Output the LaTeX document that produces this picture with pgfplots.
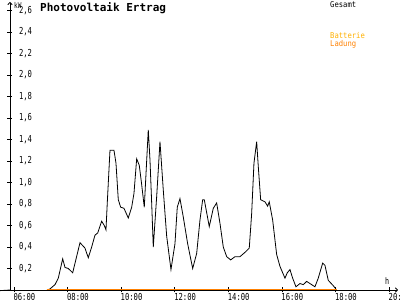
\documentclass[border=0pt]{standalone}
\usepackage{pgfplots}
\pgfplotsset{compat=1.18}
\usetikzlibrary{arrows.meta}
\usepackage{fontspec}
\newfontfamily\pix[FakeStretch=0.75]{DejaVu Sans Mono}
\newfontfamily\pixb[FakeStretch=0.9]{DejaVu Sans Mono}
\newfontfamily\titlef{DejaVu Sans Mono Bold}
\definecolor{orangeL}{HTML}{FF8000}
\definecolor{amber}{HTML}{FFB000}
\begin{document}
\begin{tikzpicture}[x=1pt,y=1pt]
\useasboundingbox (-10,-10) rectangle (390,290);
\begin{axis}[
  scale only axis, width=388pt, height=288pt,
  xmin=5.851, xmax=20.33, ymin=0, ymax=2.679,
  axis x line=bottom, axis y line=left,
  axis line style={black, line width=0.8pt, -{To[length=3pt,width=5pt]}},
  tick align=center, major tick length=5pt,
  tick style={black, line width=0.8pt},
  xtick={6,8,10,12,14,16,18,20},
  xticklabels={06:00,08:00,10:00,12:00,14:00,16:00,18:00,20:00},
  xticklabel style={font=\pix\fontsize{9.6}{10}\selectfont, anchor=north west, xshift=-4pt, yshift=3pt},
  ytick={0.2,0.4,0.6,0.8,1.0,1.2,1.4,1.6,1.8,2.0,2.2,2.4,2.6},
  yticklabels={0{,}2,0{,}4,0{,}6,0{,}8,1{,}0,1{,}2,1{,}4,1{,}6,1{,}8,2{,}0,2{,}2,2{,}4,2{,}6},
  yticklabel style={font=\pix\fontsize{9.6}{10}\selectfont, anchor=west, xshift=8pt},
  clip=false,
]
\addplot[black, line width=0.8pt] coordinates {
(7.231,0) (7.343,0.01) (7.530,0.05) (7.653,0.11) (7.817,0.29) (7.903,0.21)
(8.026,0.20) (8.190,0.16) (8.463,0.44) (8.649,0.39) (8.772,0.30) (8.899,0.40)
(9.022,0.51) (9.123,0.53) (9.272,0.64) (9.369,0.60) (9.433,0.56) (9.481,0.81)
(9.582,1.30) (9.731,1.30) (9.806,1.18) (9.892,0.84) (9.981,0.77) (10.104,0.76)
(10.265,0.67) (10.392,0.77) (10.478,0.90) (10.578,1.22) (10.675,1.16) (10.765,0.98)
(10.862,0.77) (11.011,1.49) (11.075,1.21) (11.138,0.81) (11.198,0.40) (11.325,0.87)
(11.448,1.38) (11.571,0.93) (11.698,0.50) (11.858,0.19) (12.007,0.43) (12.093,0.77)
(12.194,0.85) (12.317,0.68) (12.481,0.43) (12.668,0.20) (12.817,0.34) (12.940,0.65)
(13.041,0.84) (13.101,0.84) (13.287,0.59) (13.437,0.76) (13.563,0.81) (13.687,0.62)
(13.810,0.40) (13.937,0.31) (14.086,0.28) (14.246,0.31) (14.433,0.31) (14.619,0.35)
(14.780,0.39) (14.869,0.71) (14.955,1.18) (15.056,1.38) (15.116,1.15) (15.205,0.84)
(15.366,0.82) (15.466,0.78) (15.526,0.82) (15.653,0.65) (15.802,0.33) (15.925,0.22)
(16.112,0.11) (16.198,0.16) (16.299,0.19) (16.399,0.11) (16.522,0.03) (16.672,0.06)
(16.795,0.05) (16.922,0.08) (17.045,0.06) (17.231,0.03) (17.354,0.11) (17.519,0.25)
(17.604,0.23) (17.728,0.09) (17.914,0.04) (18.041,0)
};
\addplot[orangeL, line width=1pt] coordinates {(7.231,0) (18.041,0)};
\draw[black, line width=0.8pt] (axis cs:5.851,0) -- ++(0,-10pt);
\draw[black, line width=0.8pt] (axis cs:5.851,0) -- ++(-10pt,0);
\end{axis}
\node[anchor=west, inner sep=0pt] at (30,282) {\titlef\fontsize{11}{12}\selectfont Photovoltaik Ertrag};
\node[anchor=west, inner sep=0pt] at (4,285) {\pix\fontsize{8}{9}\selectfont kW};
\node[anchor=west, inner sep=0pt] at (320,285) {\pixb\fontsize{8}{9}\selectfont Gesamt};
\node[anchor=west, inner sep=0pt, text=amber] at (320,254) {\pixb\fontsize{8}{9}\selectfont Batterie};
\node[anchor=west, inner sep=0pt, text=orangeL] at (320,246) {\pixb\fontsize{8}{9}\selectfont Ladung};
\node[anchor=west, inner sep=0pt] at (375,9) {\pix\fontsize{9}{10}\selectfont h};
\end{tikzpicture}
\end{document}
